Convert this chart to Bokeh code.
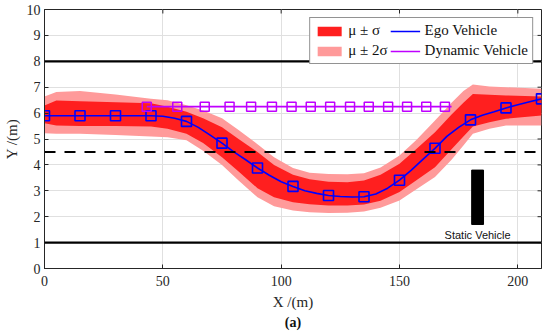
from bokeh.plotting import figure
from bokeh.models import Range1d, Legend, LegendItem, FixedTicker, Span, Title
from bokeh.core.properties import value
from bokeh.embed import file_html
from bokeh.resources import INLINE

# ---------------- data ----------------
x_ticks = [0, 50, 100, 150, 200]
y_ticks = [0, 1, 2, 3, 4, 5, 6, 7, 8, 9, 10]
x_lim = [0, 210]
y_lim = [0, 10]

ego_line_x = [0, 5, 10, 15, 20, 25, 30, 35, 40, 45, 50, 55, 60, 65, 70, 75, 80, 85,
              90, 95, 100, 105, 110, 115, 120, 125, 130, 135, 140, 145, 150, 155,
              160, 165, 170, 175, 180, 185, 190, 195, 200, 205, 210]
ego_line_y = [5.9, 5.9, 5.9, 5.9, 5.9, 5.9, 5.9, 5.9, 5.9, 5.9, 5.88, 5.8, 5.68, 5.45,
              5.15, 4.84, 4.5, 4.2, 3.88, 3.6, 3.35, 3.17, 3.0, 2.9, 2.82, 2.78, 2.76,
              2.77, 2.88, 3.1, 3.41, 3.8, 4.22, 4.64, 5.1, 5.45, 5.74, 5.92, 6.05,
              6.2, 6.32, 6.44, 6.55]
ego_mark_x = [0, 15, 30, 45, 60, 75, 90, 105, 120, 135, 150, 165, 180, 195, 210]
ego_mark_y = [5.9, 5.9, 5.9, 5.9, 5.68, 4.84, 3.88, 3.17, 2.82, 2.77, 3.41, 4.64,
              5.74, 6.2, 6.55]

dyn_x = [43.2, 56.1, 67.7, 78.2, 87.3, 96.1, 104.4, 112.5, 120.7, 129.1, 137.0,
         145.2, 153.2, 161.3, 169.2]
dyn_y = [6.25, 6.25, 6.25, 6.25, 6.25, 6.25, 6.25, 6.25, 6.25, 6.25, 6.25, 6.25,
         6.25, 6.25, 6.25]
dyn_line_x = [43.2, 172.0]
dyn_line_y = [6.25, 6.25]

band_x = [0, 5, 15, 30, 45, 52, 60, 67, 75, 82, 90, 97, 105, 112, 120, 128, 135,
          142, 150, 157, 165, 172, 177, 181, 188, 195, 210]
sig1_hi = [6.29, 6.49, 6.46, 6.42, 6.38, 6.25, 6.05, 5.8, 5.45, 5.0, 4.5, 4.0, 3.62,
           3.45, 3.35, 3.33, 3.4, 3.62, 4.04, 4.6, 5.26, 5.95, 6.4, 6.74, 6.71, 6.68, 6.64]
sig1_lo = [5.61, 5.52, 5.5, 5.5, 5.48, 5.4, 5.2, 4.85, 4.3, 3.75, 3.1, 2.75, 2.56,
           2.48, 2.43, 2.43, 2.47, 2.62, 2.95, 3.4, 3.91, 4.6, 5.1, 5.48, 5.65, 5.78, 5.91]
sig2_hi = [6.64, 6.81, 6.85, 6.72, 6.55, 6.5, 6.3, 6.1, 5.8, 5.35, 4.8, 4.3, 3.88,
           3.7, 3.65, 3.64, 3.68, 3.9, 4.36, 4.95, 5.71, 6.4, 6.85, 7.1, 7.03, 7.0, 6.94]
sig2_lo = [5.22, 5.2, 5.2, 5.15, 5.1, 5.07, 4.95, 4.55, 4.0, 3.4, 2.75, 2.4, 2.24,
           2.17, 2.14, 2.15, 2.2, 2.35, 2.63, 3.05, 3.53, 4.2, 4.75, 5.2, 5.4, 5.52, 5.52]

road_edges_y = [1, 8]
lane_line_y = 4.5
static_x = [180.5, 185.5]
static_y = [1.7, 3.8]
static_label = "Static Vehicle"
x_label = "X /(m)"
y_label = "Y /(m)"
panel_label = "(a)"

# ---------------- styling ----------------
SERIF = "Liberation Serif"
DARK = "#262626"
RED = "#ff1f1f"
PINK = "#ff9a9a"
BLUE = "#0000ff"
PURPLE = "#bf00ff"

W, H = 550, 332
BL, BR, BT, BB = 40, 9, 9, 64
p = figure(width=W, height=H, x_range=Range1d(*x_lim), y_range=Range1d(*y_lim),
           output_backend="svg", toolbar_location=None,
           min_border_left=BL, min_border_right=BR, min_border_top=BT, min_border_bottom=BB)
p.background_fill_color = "white"
p.outline_line_color = DARK
p.outline_line_width = 1

# pixel -> data conversions for decorations
fw = W - BL - BR
fh = H - BT - BB
px_x = (x_lim[1] - x_lim[0]) / fw
px_y = (y_lim[1] - y_lim[0]) / fh

p.xaxis.ticker = FixedTicker(ticks=x_ticks)
p.yaxis.ticker = FixedTicker(ticks=y_ticks)
for ax in [p.xaxis[0], p.yaxis[0]]:
    ax.major_tick_in = 4
    ax.major_tick_out = 0
    ax.minor_tick_line_color = None
    ax.axis_line_color = DARK
    ax.major_tick_line_color = DARK
    ax.major_label_text_font = SERIF
    ax.major_label_text_font_size = "14px"
    ax.major_label_text_color = DARK
    ax.axis_label_text_font = SERIF
    ax.axis_label_text_font_size = "15px"
    ax.axis_label_text_font_style = "normal"
    ax.axis_label_text_color = DARK
p.xaxis.axis_label = x_label
p.yaxis.axis_label = y_label
p.xaxis.major_label_standoff = 7
p.xaxis.axis_label_standoff = 5
p.yaxis.major_label_standoff = 4
p.yaxis.axis_label_standoff = 4

p.add_layout(Title(text=panel_label, align="center", text_font=SERIF,
                   text_font_style="bold", text_font_size="14px",
                   text_color="#111111", standoff=0), "below")

p.xgrid.ticker = FixedTicker(ticks=x_ticks)
p.ygrid.ticker = FixedTicker(ticks=y_ticks)
p.grid.grid_line_color = "#e0e0e0"
p.grid.grid_line_width = 1

# inward ticks on top and right edges (from tick lists)
top_ticks = [t for t in x_ticks if x_lim[0] < t < x_lim[1]]
p.segment(x0=top_ticks, x1=top_ticks, y0=[y_lim[1]] * len(top_ticks),
          y1=[y_lim[1] - 4 * px_y] * len(top_ticks), line_color=DARK, line_width=1)
right_ticks = [t for t in y_ticks if y_lim[0] < t < y_lim[1]]
p.segment(x0=[x_lim[1]] * len(right_ticks), x1=[x_lim[1] - 4 * px_x] * len(right_ticks),
          y0=right_ticks, y1=right_ticks, line_color=DARK, line_width=1)

# bands
r_s2 = p.varea(x=band_x, y1=sig2_lo, y2=sig2_hi, fill_color=PINK)
r_s1 = p.varea(x=band_x, y1=sig1_lo, y2=sig1_hi, fill_color=RED)

# road lines
for yv in road_edges_y:
    p.add_layout(Span(location=yv, dimension="width", line_color="black", line_width=2.2))
p.add_layout(Span(location=lane_line_y, dimension="width", line_color="black",
                  line_width=2, line_dash="11 9"))

# ego vehicle
r_ego = p.line(ego_line_x, ego_line_y, line_color=BLUE, line_width=1.6)
p.scatter(ego_mark_x, ego_mark_y, marker="square", size=10, fill_color=None,
          line_color=BLUE, line_width=1.6)

# dynamic vehicle
r_dyn = p.line(dyn_line_x, dyn_line_y, line_color=PURPLE, line_width=1.6)
p.scatter(dyn_x, dyn_y, marker="square", size=9, fill_color=None,
          line_color=PURPLE, line_width=1.5)

# static vehicle
p.quad(left=[static_x[0]], right=[static_x[1]], bottom=[static_y[0]], top=[static_y[1]],
       fill_color="black", line_color="black")
p.text(x=[sum(static_x) / 2], y=[static_y[0] - 11 * px_y], text=[static_label],
       text_font=value("Liberation Sans"), text_font_size="11px", text_color="#111111",
       text_align="center", text_baseline="middle")

legend = Legend(items=[LegendItem(label="μ ± σ", renderers=[r_s1]),
                       LegendItem(label="μ ± 2σ", renderers=[r_s2]),
                       LegendItem(label="Ego Vehicle", renderers=[r_ego]),
                       LegendItem(label="Dynamic Vehicle", renderers=[r_dyn])],
                ncols=2, location="top_right", margin=8, padding=4, spacing=3,
                glyph_width=30, glyph_height=12, label_height=14, label_standoff=4,
                label_text_font=SERIF, label_text_font_size="15px", label_text_color="#111111",
                border_line_color=DARK, border_line_width=1, background_fill_alpha=1)
p.add_layout(legend)

open("out.html", "w").write(file_html(p, INLINE))
